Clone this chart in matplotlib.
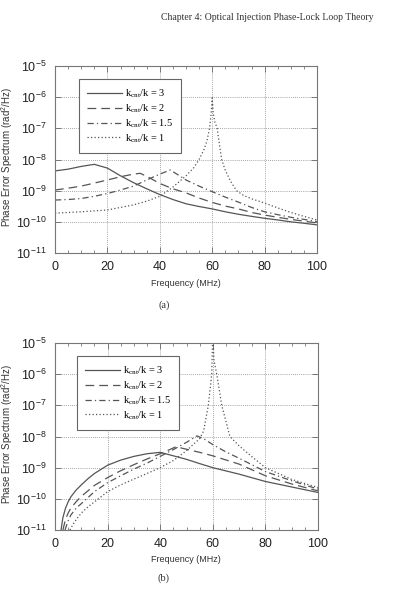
import matplotlib
matplotlib.use("Agg")
import matplotlib.pyplot as plt
from matplotlib.ticker import FixedLocator, MultipleLocator, NullLocator, FixedFormatter

plt.rcParams['font.family'] = ['Liberation Sans', 'DejaVu Sans']
plt.rcParams['mathtext.fontset'] = 'custom'
plt.rcParams['mathtext.rm'] = 'Liberation Sans'
plt.rcParams['mathtext.it'] = 'Liberation Sans:italic'

# ---------------- data ----------------
header = "Chapter 4: Optical Injection Phase-Lock Loop Theory"
ylabel = "Phase Error Spectrum (rad$^2$/Hz)"
xlabel = "Frequency (MHz)"
panel_labels = ["(a)", "(b)"]
legend_labels = ["k$_\\mathregular{cnt}$/k = 3", "k$_\\mathregular{cnt}$/k = 2",
                 "k$_\\mathregular{cnt}$/k = 1.5", "k$_\\mathregular{cnt}$/k = 1"]
xticks = [0, 20, 40, 60, 80, 100]
xticklabels = ["0", "20", "40", "60", "80", "100"]
yticks = [1e-11, 1e-10, 1e-9, 1e-8, 1e-7, 1e-6, 1e-5]
yticklabels = ["$\\mathregular{10^{-11}}$", "$\\mathregular{10^{-10}}$", "$\\mathregular{10^{-9}}$",
               "$\\mathregular{10^{-8}}$", "$\\mathregular{10^{-7}}$", "$\\mathregular{10^{-6}}$",
               "$\\mathregular{10^{-5}}$"]

# panel (a)
fa_k3 = [0, 5, 10, 15, 20, 25, 30, 35, 40, 45, 50, 55, 60, 65, 70, 75, 80, 85, 90, 95, 100]
ya_k3 = [4.3e-9, 4.9e-9, 6.0e-9, 7.0e-9, 5.3e-9, 3.0e-9, 1.8e-9, 1.15e-9, 7.5e-10, 5.2e-10, 3.8e-10,
         3.1e-10, 2.6e-10, 2.1e-10, 1.75e-10, 1.5e-10, 1.3e-10, 1.15e-10, 1.0e-10, 9e-11, 8e-11]
fa_k2 = [0, 5, 10, 15, 20, 25, 30, 32.5, 35, 40, 45, 50, 55, 60, 65, 70, 75, 80, 85, 90, 95, 100]
ya_k2 = [1.05e-9, 1.2e-9, 1.4e-9, 1.75e-9, 2.2e-9, 2.8e-9, 3.4e-9, 3.6e-9, 2.9e-9, 1.7e-9, 1.15e-9,
         8.5e-10, 5.8e-10, 4.2e-10, 3.2e-10, 2.6e-10, 2.0e-10, 1.65e-10, 1.4e-10, 1.2e-10, 1.05e-10, 9.2e-11]
fa_k15 = [0, 5, 10, 15, 20, 25, 30, 35, 40, 44, 47, 50, 55, 60, 65, 70, 75, 80, 85, 90, 95, 100]
ya_k15 = [5.0e-10, 5.2e-10, 5.6e-10, 6.6e-10, 8.1e-10, 1.05e-9, 1.4e-9, 2.2e-9, 3.4e-9, 4.6e-9, 3.2e-9,
          2.2e-9, 1.4e-9, 9.3e-10, 6.2e-10, 4.3e-10, 2.9e-10, 2.1e-10, 1.7e-10, 1.4e-10, 1.2e-10, 1.02e-10]
fa_k1 = [0, 10, 20, 30, 35, 40, 45, 50, 53, 55, 57, 58, 59, 59.6, 60, 60.4, 61, 61.9, 63, 63.6, 65,
         67, 69.3, 72, 75, 80, 85, 90, 95, 100]
ya_k1 = [1.9e-10, 2.1e-10, 2.4e-10, 3.5e-10, 4.6e-10, 6.6e-10, 1.3e-9, 3.0e-9, 5.5e-9, 1.0e-8, 2.2e-8,
         4.0e-8, 1.0e-7, 3.0e-7, 9.5e-7, 3.0e-7, 1.6e-7, 1.0e-7, 2.2e-8, 1.0e-8, 4.5e-9,
         2.0e-9, 1.0e-9, 7.0e-10, 5.5e-10, 4.0e-10, 2.8e-10, 2.0e-10, 1.5e-10, 1.15e-10]

# panel (b)
fb_k3 = [2.3, 3, 4, 5, 6, 8, 10, 12.5, 15, 20, 25, 30, 35, 40, 45, 50, 55, 60, 70, 80, 90, 100]
yb_k3 = [1e-11, 2.5e-11, 5e-11, 8e-11, 1.15e-10, 1.9e-10, 2.8e-10, 4.4e-10, 6.5e-10, 1.2e-9, 1.75e-9,
         2.3e-9, 2.8e-9, 3.1e-9, 2.4e-9, 1.85e-9, 1.35e-9, 1.0e-9, 6.2e-10, 3.6e-10, 2.4e-10, 1.6e-10]
fb_k2 = [3, 4, 5, 6, 8, 10, 15, 20, 25, 30, 35, 40, 43, 46, 50, 55, 60, 70, 80, 90, 100]
yb_k2 = [1e-11, 2.2e-11, 3.5e-11, 5e-11, 8e-11, 1.2e-10, 2.7e-10, 4.8e-10, 8e-10, 1.25e-9, 1.9e-9,
         2.8e-9, 3.6e-9, 4.7e-9, 3.9e-9, 3.1e-9, 2.4e-9, 1.3e-9, 5.5e-10, 3.0e-10, 1.8e-10]
fb_k15 = [3.8, 5, 6, 8, 10, 15, 20, 25, 30, 35, 40, 45, 50, 54, 57, 60, 65, 70, 80, 90, 100]
yb_k15 = [1e-11, 2e-11, 3e-11, 5e-11, 7e-11, 1.7e-10, 3.3e-10, 5.5e-10, 9e-10, 1.4e-9, 2.3e-9,
          3.8e-9, 6.5e-9, 1.05e-8, 8e-9, 5.5e-9, 3.2e-9, 2.0e-9, 7.5e-10, 3.8e-10, 2.05e-10]
fb_k1 = [5.7, 7, 8.5, 10, 12.5, 15, 20, 25, 30, 35, 40, 45, 50, 53, 55, 56.5, 58.3, 59.6, 60, 60.4,
         61.5, 63.4, 66.5, 70, 75, 80, 90, 100]
yb_k1 = [1e-11, 1.6e-11, 2.4e-11, 3.5e-11, 5.5e-11, 8e-11, 1.7e-10, 2.8e-10, 4.3e-10, 6.5e-10, 1e-9,
         1.7e-9, 3.5e-9, 6e-9, 8.5e-9, 1.5e-8, 1e-7, 1e-6, 3e-5, 3e-6, 1e-6, 1e-7, 1e-8, 5e-9, 2.2e-9,
         1e-9, 4.2e-10, 2.3e-10]

series_a = [(fa_k3, ya_k3), (fa_k2, ya_k2), (fa_k15, ya_k15), (fa_k1, ya_k1)]
series_b = [(fb_k3, yb_k3), (fb_k2, yb_k2), (fb_k15, yb_k15), (fb_k1, yb_k1)]

# ---------------- styling ----------------
W, H = 414, 607
line_color = '#555555'
grid_color = '#888888'
styles = ['-', (0, (7, 4)), (0, (5, 2.5, 1, 2.5)), (0, (1, 1.8))]

fig = plt.figure(figsize=(W / 100, H / 100), dpi=100)
ax_a = fig.add_axes([55 / W, 1 - 253 / H, 262 / W, 187 / H])
ax_b = fig.add_axes([55 / W, 1 - 530 / H, 263 / W, 187 / H])


def style_axes(ax, series, leg_anchor):
    for (f, y), ls, lab in zip(series, styles, legend_labels):
        ax.plot(f, y, color=line_color, lw=0.9, linestyle=ls, label=lab)
    ax.set_yscale('log')
    ax.set_xlim(0, 100)
    ax.set_ylim(1e-11, 1e-5)
    ax.xaxis.set_major_locator(FixedLocator(xticks))
    ax.xaxis.set_major_formatter(FixedFormatter(xticklabels))
    ax.xaxis.set_minor_locator(MultipleLocator(5))
    ax.yaxis.set_major_locator(FixedLocator(yticks))
    ax.yaxis.set_major_formatter(FixedFormatter(yticklabels))
    ax.yaxis.set_minor_locator(NullLocator())
    ax.tick_params(which='both', direction='in', top=True, right=True, color='#777777')
    ax.tick_params(which='major', length=4, width=0.7, labelsize=9, pad=6, labelcolor='#222222')
    ax.tick_params(which='minor', length=2.5, width=0.6)
    for s in ax.spines.values():
        s.set_color('#777777')
        s.set_linewidth(0.8)
    ax.grid(True, which='major', linestyle=(0, (1, 1.5)), color=grid_color, linewidth=0.6)
    leg = ax.legend(loc='upper left', bbox_to_anchor=leg_anchor, borderaxespad=0,
                    prop={'family': 'Liberation Serif', 'size': 7.5}, handlelength=3.3,
                    handletextpad=0.3, labelspacing=0.2, borderpad=0.8, fancybox=False,
                    framealpha=1, edgecolor='#666666')
    leg.get_frame().set_linewidth(0.8)


style_axes(ax_a, series_a, (0.092, 0.93))
style_axes(ax_b, series_b, (0.084, 0.93))

fig.text(267 / W, 1 - 17 / H, header, ha='center', va='center', family='Liberation Serif',
         size=7.0, color='#333333')
for yc in (157, 434):
    fig.text(7 / W, 1 - yc / H, ylabel, rotation=90, ha='center', va='center', size=7,
             color='#333333')
for yc in (283, 559):
    fig.text(186 / W, 1 - yc / H, xlabel, ha='center', va='center', size=6.5, color='#333333')
for yc, lab in zip((305, 578), panel_labels):
    fig.text(164 / W, 1 - yc / H, lab, ha='center', va='center', family='Liberation Serif',
             size=7.5, color='#333333')

fig.savefig('out.png', dpi=100)
